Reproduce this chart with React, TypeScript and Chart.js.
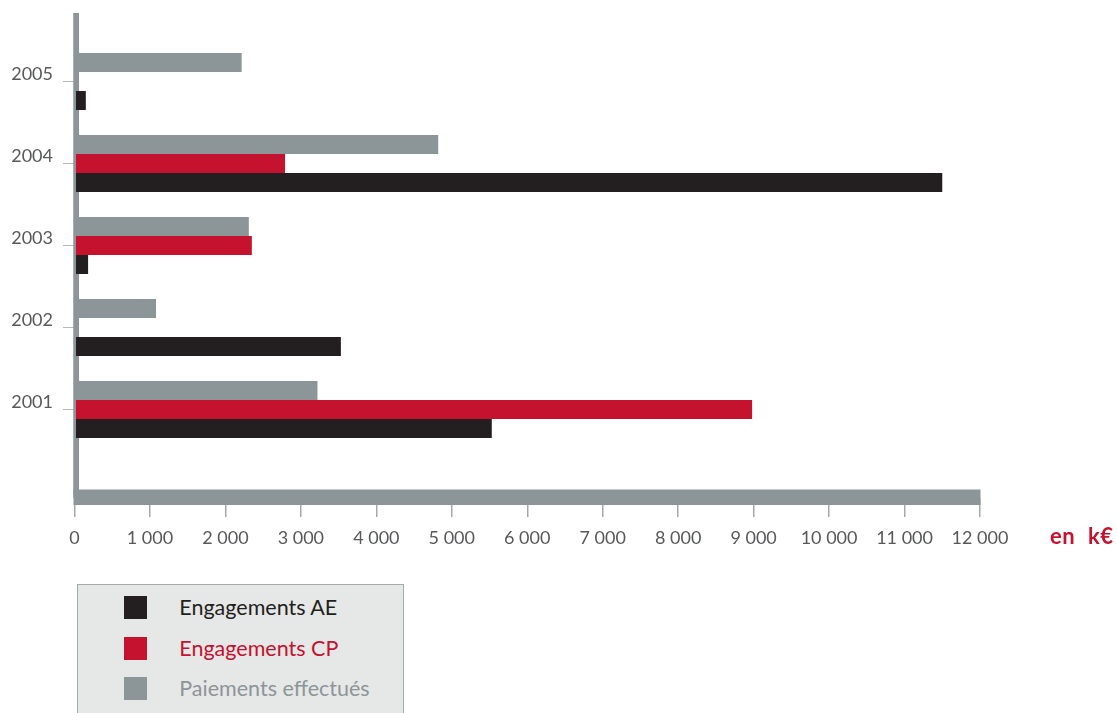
import React, { useEffect, useRef } from 'react';
import { Chart, registerables } from 'chart.js';

Chart.register(...registerables);

// ---- data ----
const YEARS = [2001, 2002, 2003, 2004, 2005];
const YEAR_LABELS = ['2001', '2002', '2003', '2004', '2005'];
const ENGAGEMENTS_AE: (number | null)[] = [5530, 3530, 180, 11500, 150];
const ENGAGEMENTS_CP: (number | null)[] = [8980, null, 2350, 2790, null];
const PAIEMENTS: (number | null)[] = [3220, 1080, 2310, 4820, 2215];
const X_TICKS = [0, 1000, 2000, 3000, 4000, 5000, 6000, 7000, 8000, 9000, 10000, 11000, 12000];
const X_TICK_LABELS = ['0', '1 000', '2 000', '3 000', '4 000', '5 000', '6 000', '7 000', '8 000', '9 000', '10 000', '11 000', '12 000'];
const SERIES_NAMES = ['Engagements AE', 'Engagements CP', 'Paiements effectués'];
const UNIT_LABEL = 'en k€';

// ---- styles ----
const BLACK = '#231f20';
const RED = '#c4122f';
const GRAY = '#8c9597';
const TEXT = '#58595b';
const FONT = 'Lato';

const toPoints = (vals: (number | null)[]) =>
  YEARS.map((y, i) => (vals[i] == null ? null : { x: vals[i] as number, y })).filter(Boolean) as { x: number; y: number }[];

const decorPlugin = {
  id: 'decor',
  beforeDatasetsDraw(chart: any) {
    const { ctx, chartArea, scales } = chart;
    const x0 = scales.x.getPixelForValue(X_TICKS[0]);
    ctx.save();
    ctx.fillStyle = GRAY;
    ctx.fillRect(x0 - 1, chartArea.top, 5.5, chartArea.bottom - chartArea.top);
    ctx.restore();
  },
  afterDatasetsDraw(chart: any) {
    const { ctx, chartArea, scales } = chart;
    const x0 = scales.x.getPixelForValue(X_TICKS[0]);
    const x1 = scales.x.getPixelForValue(X_TICKS[X_TICKS.length - 1]);
    ctx.save();
    ctx.fillStyle = GRAY;
    ctx.fillRect(x0 - 1, chartArea.top, 2.5, chartArea.bottom - chartArea.top);
    ctx.fillRect(x0 - 1, chartArea.bottom - 8, x1 - x0 + 1.5, 15.5);
    ctx.restore();
  },
  afterDraw(chart: any) {
    const { ctx, chartArea } = chart;
    ctx.save();
    ctx.font = `bold 22px ${FONT}`;
    ctx.fillStyle = RED;
    ctx.textAlign = 'left';
    ctx.textBaseline = 'alphabetic';
    try {
      (ctx as any).wordSpacing = '7px';
      (ctx as any).letterSpacing = '0.5px';
    } catch (e) {}
    ctx.fillText(UNIT_LABEL, chartArea.right + 70, chartArea.bottom + 46.5);
    ctx.restore();
  },
};

const LEGEND = [
  { label: SERIES_NAMES[0], color: BLACK, textColor: BLACK },
  { label: SERIES_NAMES[1], color: RED, textColor: RED },
  { label: SERIES_NAMES[2], color: GRAY, textColor: GRAY },
];

export default function App() {
  const ref = useRef<HTMLCanvasElement>(null);

  useEffect(() => {
    const barOpts = { categoryPercentage: 0.695, barPercentage: 1, borderWidth: 0 };
    const chart = new Chart(ref.current as HTMLCanvasElement, {
      type: 'bar',
      data: {
        datasets: [
          { label: SERIES_NAMES[2], data: toPoints(PAIEMENTS), backgroundColor: GRAY, ...barOpts },
          { label: SERIES_NAMES[1], data: toPoints(ENGAGEMENTS_CP), backgroundColor: RED, ...barOpts },
          { label: SERIES_NAMES[0], data: toPoints(ENGAGEMENTS_AE), backgroundColor: BLACK, ...barOpts },
        ] as any,
      },
      options: {
        indexAxis: 'y',
        responsive: false,
        animation: false,
        layout: { padding: { left: 0, top: 13, right: 137, bottom: 0 } },
        plugins: { legend: { display: false }, tooltip: { enabled: false } },
        scales: {
          x: {
            type: 'linear',
            position: 'bottom',
            min: 0,
            max: 12000,
            afterBuildTicks: (s: any) => {
              s.ticks = X_TICKS.map((v) => ({ value: v }));
            },
            afterFit: (s: any) => {
              s.height = 215.5;
              s.paddingLeft = 0;
              s.paddingRight = 0;
              s.paddingTop = 0;
              s.paddingBottom = 0;
            },
            ticks: {
              callback: (v: any) => X_TICK_LABELS[X_TICKS.indexOf(Number(v))],
              color: TEXT,
              font: { family: FONT, size: 18 },
              padding: 10,
              maxRotation: 0,
              autoSkip: false,
            },
            grid: { drawOnChartArea: false, drawTicks: true, tickLength: 19.5, color: '#a3a9aa', lineWidth: 1.5 },
            border: { display: false },
          },
          y: {
            type: 'linear',
            min: 1999.927,
            max: 2005.834,
            offset: false,
            afterBuildTicks: (s: any) => {
              s.ticks = YEARS.map((v) => ({ value: v }));
            },
            afterFit: (s: any) => {
              s.width = 74.5;
              s.paddingLeft = 0;
              s.paddingRight = 0;
              s.paddingTop = 0;
              s.paddingBottom = 0;
            },
            ticks: {
              callback: (v: any) => YEAR_LABELS[YEARS.indexOf(Number(v))],
              color: TEXT,
              font: { family: FONT, size: 18 },
              padding: 10,
              labelOffset: -7,
              autoSkip: false,
            },
            grid: { offset: false, drawOnChartArea: false, drawTicks: true, tickLength: 11.5, color: '#b3b8b9', lineWidth: 1 },
            border: { display: false },
          },
        },
      } as any,
      plugins: [decorPlugin],
    });
    return () => chart.destroy();
  }, []);

  return (
    <div style={{ position: 'fixed', left: 0, top: 0, width: 1117, height: 713, overflow: 'hidden', background: '#fff' }}>
      <canvas ref={ref} width={1117} height={713} style={{ position: 'absolute', left: 0, top: 0, display: 'block' }} />
      <div
        style={{
          position: 'absolute',
          left: 76.5,
          top: 584,
          width: 327,
          height: 160,
          background: '#e6e7e7',
          border: '1px solid #a5abac',
          boxSizing: 'border-box',
        }}
      >
        {LEGEND.map((item, i) => (
          <div
            key={item.label}
            style={{ position: 'absolute', left: 46.5, top: 11 + i * 40.5, height: 23, display: 'flex', alignItems: 'center', whiteSpace: 'nowrap' }}
          >
            <span style={{ width: 23, height: 23, background: item.color, display: 'inline-block', flex: 'none' }} />
            <span style={{ marginLeft: 32.3, color: item.textColor, fontFamily: FONT, fontSize: 21.5, lineHeight: '23px' }}>{item.label}</span>
          </div>
        ))}
      </div>
    </div>
  );
}
